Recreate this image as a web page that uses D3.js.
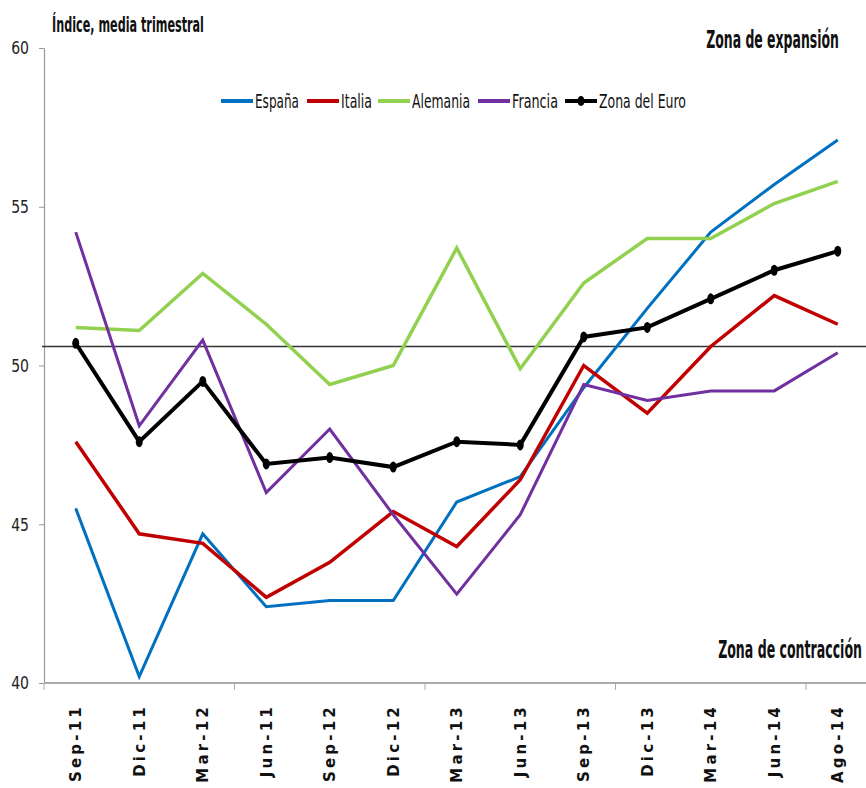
<!DOCTYPE html>
<html>
<head>
<meta charset="utf-8">
<script src="https://cdn.jsdelivr.net/npm/d3@7"></script>
<style>
  body { margin: 0; background: #fff; }
  svg { display: block; }
  .cond { font-family: "DejaVu Sans", sans-serif; }
</style>
</head>
<body>
<svg id="chart" width="866" height="788"></svg>
<script>
// categorias (trimestres)
var categories = ["Sep-11", "Dic-11", "Mar-12", "Jun-11", "Sep-12", "Dic-12", "Mar-13",
                  "Jun-13", "Sep-13", "Dic-13", "Mar-14", "Jun-14", "Ago-14"];

var espana   = [45.5, 40.2, 44.7, 42.4, 42.6, 42.6, 45.7, 46.5, 49.3, 51.8, 54.2, 55.7, 57.1];
var italia   = [47.6, 44.7, 44.4, 42.7, 43.8, 45.4, 44.3, 46.4, 50.0, 48.5, 50.6, 52.2, 51.3];
var alemania = [51.2, 51.1, 52.9, 51.3, 49.4, 50.0, 53.7, 49.9, 52.6, 54.0, 54.0, 55.1, 55.8];
var francia  = [54.2, 48.1, 50.8, 46.0, 48.0, 45.3, 42.8, 45.3, 49.4, 48.9, 49.2, 49.2, 50.4];
var euro     = [50.7, 47.6, 49.5, 46.9, 47.1, 46.8, 47.6, 47.5, 50.9, 51.2, 52.1, 53.0, 53.6];

var seriesNames = ["España", "Italia", "Alemania", "Francia", "Zona del Euro"];
var yTicks = [40, 45, 50, 55, 60];
var umbral = 50.6;

var series = [
  { name: seriesNames[0], values: espana,   color: "#0070C0", width: 3 },
  { name: seriesNames[1], values: italia,   color: "#C00000", width: 3.5 },
  { name: seriesNames[2], values: alemania, color: "#92D050", width: 3.5 },
  { name: seriesNames[3], values: francia,  color: "#7030A0", width: 3 },
  { name: seriesNames[4], values: euro,     color: "#000000", width: 4, marker: true }
];

var svg = d3.select("#chart");

var marginLeft = 44, marginTop = 48, baseY = 683;
var step = 63.5;

// the original text is a narrow font, so squeeze DejaVu horizontally
function squeeze(sel, f) {
  sel.each(function() {
    var w = this.getComputedTextLength();
    d3.select(this)
      .attr("textLength", w * f)
      .attr("lengthAdjust", "spacingAndGlyphs");
  });
}

// bold label squeezed with a transform to a given width
function narrowLabel(txt, px, py, size, w, anchor) {
  var g = svg.append("g");
  var t = g.append("text")
    .attr("class", "cond")
    .attr("font-size", size).attr("font-weight", "bold")
    .attr("fill", "#111")
    .attr("text-anchor", anchor || "start")
    .text(txt);
  var k = w / t.node().getComputedTextLength();
  g.attr("transform", "translate(" + px + "," + py + ") scale(" + k + ",1)");
  return t;
}

var x = d3.scaleBand()
  .domain(categories)
  .range([marginLeft, marginLeft + step * categories.length]);

var y = d3.scaleLinear()
  .domain([40, 60])
  .range([baseY, marginTop]);

function cx(i) { return x(categories[i]) + x.bandwidth() / 2; }

// eje Y
var yAxis = svg.append("g")
  .attr("transform", "translate(" + marginLeft + ",0)")
  .call(d3.axisLeft(y).tickValues(yTicks).tickSize(5).tickSizeOuter(0));
yAxis.select(".domain").attr("stroke", "#999").attr("stroke-width", 1.2);
yAxis.selectAll(".tick line").attr("stroke", "#999");
yAxis.selectAll(".tick text")
  .attr("class", "cond")
  .attr("font-size", 18)
  .attr("fill", "#222")
  .attr("x", -15)
  .call(squeeze, 0.78);

// eje X
svg.append("line")
  .attr("x1", marginLeft).attr("x2", 866)
  .attr("y1", baseY).attr("y2", baseY)
  .attr("stroke", "#aaa").attr("stroke-width", 2);

svg.selectAll(".xtick")
  .data(categories.filter(function(d, i) { return i % 3 === 0; }))
  .enter().append("line")
  .attr("x1", function(d) { return x(d); })
  .attr("x2", function(d) { return x(d); })
  .attr("y1", baseY).attr("y2", baseY + 7)
  .attr("stroke", "#aaa").attr("stroke-width", 1);

svg.selectAll(".xlabel")
  .data(categories)
  .enter().append("text")
  .attr("transform", function(d, i) { return "translate(" + cx(i) + "," + (baseY + 21) + ") rotate(-90)"; })
  .attr("text-anchor", "end")
  .attr("dy", "0.36em")
  .attr("font-family", "DejaVu Sans, sans-serif")
  .attr("font-weight", "bold")
  .attr("font-size", 15)
  .attr("letter-spacing", 3.2)
  .attr("fill", "#111")
  .text(function(d) { return d; });

// linea de 50
svg.append("line")
  .attr("x1", marginLeft - 2).attr("x2", 866)
  .attr("y1", y(umbral)).attr("y2", y(umbral))
  .attr("stroke", "#333").attr("stroke-width", 1.5);

var line = d3.line()
  .x(function(d, i) { return cx(i); })
  .y(function(d) { return y(d); });

series.forEach(function(s) {
  svg.append("path")
    .datum(s.values)
    .attr("d", line)
    .attr("fill", "none")
    .attr("stroke", s.color)
    .attr("stroke-width", s.width)
    .attr("stroke-linejoin", "miter");

  if (s.marker) {
    svg.selectAll(".mk")
      .data(s.values)
      .enter().append("ellipse")
      .attr("cx", function(d, i) { return cx(i); })
      .attr("cy", function(d) { return y(d); })
      .attr("rx", 3.5).attr("ry", 5.5)
      .attr("fill", s.color);
  }
});

// leyenda
var legendX = [221, 307, 378, 478, 565];
var legendW = [44, 31, 58, 46, 87];
var legend = svg.selectAll(".leg")
  .data(series)
  .enter().append("g")
  .attr("transform", function(d, i) { return "translate(" + legendX[i] + ",101)"; });

legend.append("line")
  .attr("x1", 0).attr("x2", 32)
  .attr("stroke", function(d) { return d.color; })
  .attr("stroke-width", 4);

legend.filter(function(d) { return d.marker; })
  .append("ellipse")
  .attr("cx", 16).attr("cy", 0)
  .attr("rx", 3.5).attr("ry", 5)
  .attr("fill", "#000");

legend.append("text")
  .attr("class", "cond")
  .attr("x", 34).attr("y", 7)
  .attr("font-size", 20)
  .attr("fill", "#111")
  .attr("textLength", function(d, i) { return legendW[i]; })
  .attr("lengthAdjust", "spacingAndGlyphs")
  .text(function(d) { return d.name; });

// titulos
narrowLabel("Índice, media trimestral", 52, 32, 21, 152);
narrowLabel("Zona de expansión", 839, 48, 24, 133, "end");
narrowLabel("Zona de contracción", 862, 658, 24, 144, "end");
</script>
</body>
</html>
